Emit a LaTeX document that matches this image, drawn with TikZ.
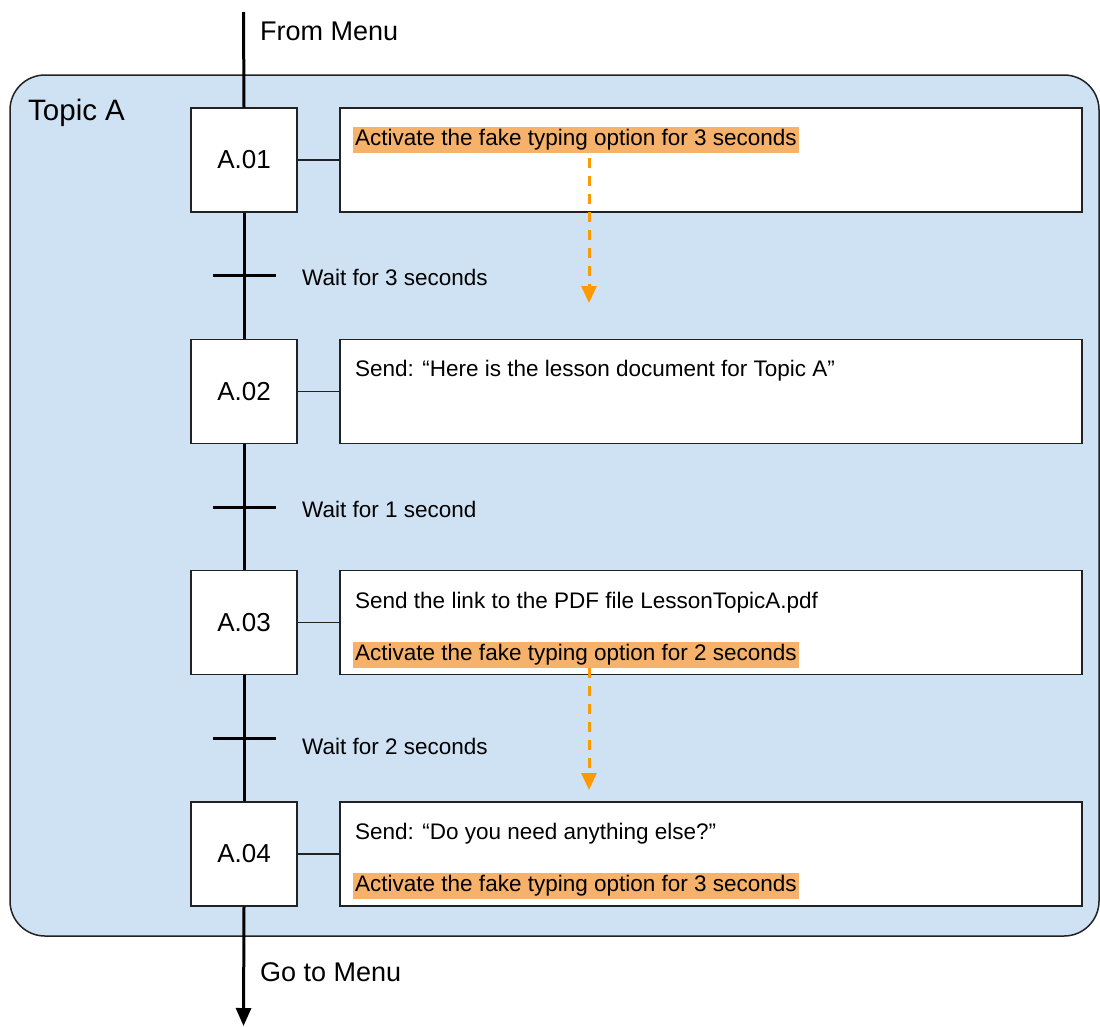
\documentclass[tikz,border=0pt]{standalone}
\usepackage{fontspec}
\setmainfont{Liberation Sans}
\usetikzlibrary{arrows.meta}
\definecolor{topicblue}{HTML}{CFE2F3}
\definecolor{hlorange}{HTML}{F6B26B}
\definecolor{dashorange}{HTML}{FF9900}
\definecolor{edge}{HTML}{222222}
\tikzset{
  stepbox/.style={draw=edge, fill=white, line width=1.5pt, minimum width=106pt, minimum height=104pt, inner sep=0pt, font=\fontsize{26}{30}\selectfont},
  actbox/.style={draw=edge, fill=white, line width=1.5pt, minimum width=742pt, minimum height=104pt, inner sep=0pt},
  acttext/.style={anchor=west, inner xsep=0pt, inner ysep=0pt, font=\fontsize{22.5}{26}\selectfont},
  hltext/.style={anchor=west, fill=hlorange, inner xsep=2pt, inner ysep=3pt, text height=15.5pt, text depth=4.5pt, font=\fontsize{22.5}{26}\selectfont},
  flow/.style={line width=3pt, draw=black},
  link/.style={line width=1.5pt, draw=edge},
  bar/.style={line width=3pt, draw=black},
  waitlbl/.style={anchor=west, inner sep=0pt, font=\fontsize{22.5}{26}\selectfont},
  biglbl/.style={anchor=west, inner sep=0pt, font=\fontsize{27}{30}\selectfont},
  typing/.style={draw=dashorange, line width=3pt, dash pattern=on 10pt off 8pt, -{Triangle[width=15pt,length=17pt]}},
}
\begin{document}
\begin{tikzpicture}[x=1pt,y=-1pt]
\useasboundingbox (0,0) rectangle (1100,1026);
% container
\node[draw=edge, fill=topicblue, line width=1.5pt, rounded corners=35pt, minimum width=1089pt, minimum height=861pt, inner sep=0pt] (topic) at (554.5,505.5) {};
\node[anchor=west, inner sep=0pt, font=\fontsize{29.5}{32}\selectfont] (topiclbl) at (28,113) {Topic A};

% step boxes
\node[stepbox] (s1) at (244,160) {A.01};
\node[stepbox] (s2) at (244,391.5) {A.02};
\node[stepbox] (s3) at (244,622.5) {A.03};
\node[stepbox] (s4) at (244,854) {A.04};

% action boxes
\node[actbox] (a1) at (711,160) {};
\node[actbox] (a2) at (711,391.5) {};
\node[actbox] (a3) at (711,622.5) {};
\node[actbox] (a4) at (711,854) {};

% action texts
\node[hltext] (h1) at (353,140) {Activate the fake typing option for 3 seconds};
\node[acttext] (x2) at (355,370.5) {Send: “Here is the lesson document for Topic A”};
\node[acttext] (x3) at (355,602.5) {Send the link to the PDF file LessonTopicA.pdf};
\node[hltext] (h3) at (353,655) {Activate the fake typing option for 2 seconds};
\node[acttext] (x4) at (355,833.5) {Send: “Do you need anything else?”};
\node[hltext] (h4) at (353,886) {Activate the fake typing option for 3 seconds};

% links step -> action
\draw[link] (s1.east) -- (a1.west);
\draw[link] (s2.east) -- (a2.west);
\draw[link] (s3.east) -- (a3.west);
\draw[link] (s4.east) -- (a4.west);

% main flow
\coordinate (start) at (243.5,12);
\coordinate (finish) at (243.5,1026);
\draw[flow] (start) -- (s1.north);
\draw[flow] (s1.south) -- (s2.north);
\draw[flow] (s2.south) -- (s3.north);
\draw[flow] (s3.south) -- (s4.north);
\draw[flow, -{Triangle[width=15pt,length=18pt]}] (s4.south) -- (finish);

\node[biglbl] (from) at (260,31) {From Menu};
\node[biglbl] (goto) at (260,972) {Go to Menu};

% transitions
\coordinate (t1l) at (213,275); \coordinate (t1r) at (276,275);
\coordinate (t2l) at (213,507); \coordinate (t2r) at (276,507);
\coordinate (t3l) at (213,738); \coordinate (t3r) at (276,738);
\draw[bar] (t1l) -- (t1r);
\draw[bar] (t2l) -- (t2r);
\draw[bar] (t3l) -- (t3r);
\node[waitlbl] (w1) at (302,277) {Wait for 3 seconds};
\node[waitlbl] (w2) at (302,509) {Wait for 1 second};
\node[waitlbl] (w3) at (302,746) {Wait for 2 seconds};

% fake typing arrows
\coordinate (d1) at (589,303);
\coordinate (d3) at (589,790);
\draw[typing] (h1.south -| d1) ++(0,5) -- (d1);
\draw[typing] (h3.south -| d3) -- (d3);
\end{tikzpicture}
\end{document}
